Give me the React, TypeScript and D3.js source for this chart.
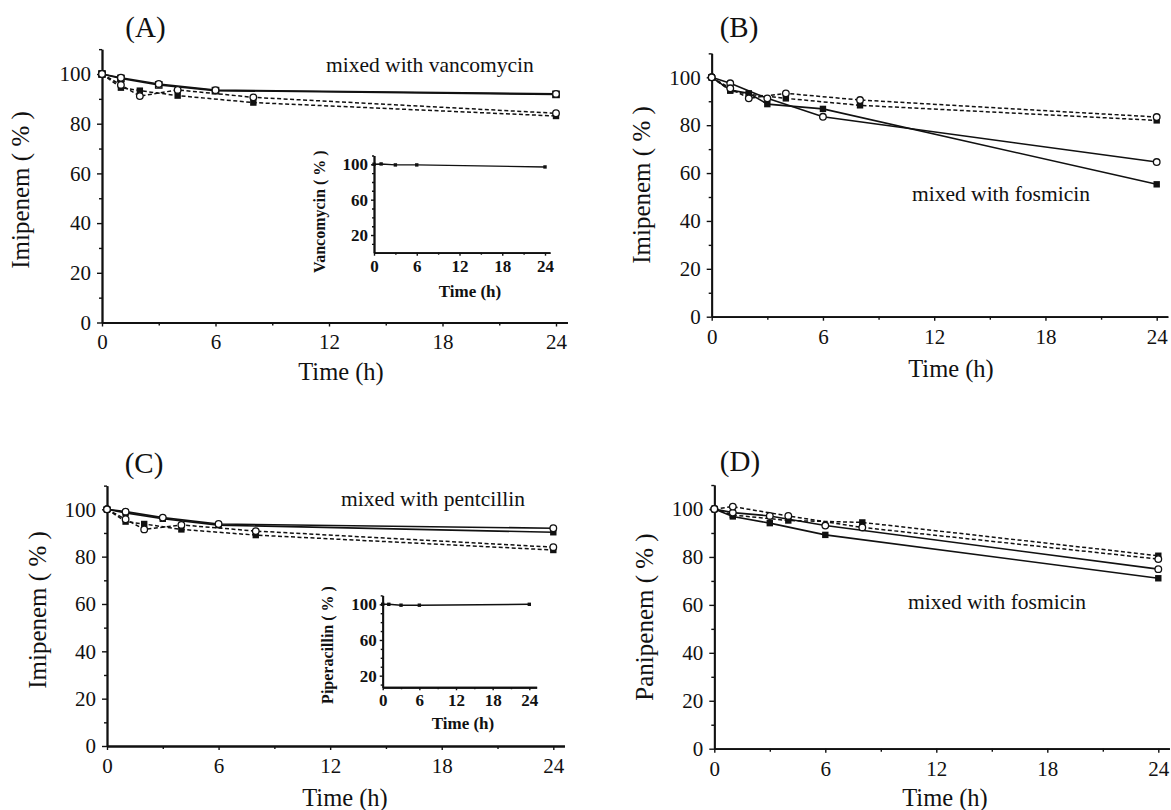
import React, { useEffect, useRef } from "react";
import * as d3 from "d3";

type Pt = [number, number];

// (A) imipenem mixed with vancomycin
const aSolidCircle: Pt[] = [[0, 100], [1, 98.5], [3, 96], [6, 93.5], [24, 92]];
const aSolidSquare: Pt[] = [[0, 100], [1, 98.2], [3, 95.6], [6, 93.3], [24, 91.8]];
const aDashCircle: Pt[] = [[0, 100], [1, 95.6], [2, 91.1], [4, 93.6], [8, 90.6], [24, 84.2]];
const aDashSquare: Pt[] = [[0, 100], [1, 94.5], [2, 93.3], [4, 91.3], [8, 88.5], [24, 83.1]];
const aInset: Pt[] = [[0, 100], [1, 100.4], [3, 99.3], [6, 99.3], [24, 97]];

// (B) imipenem mixed with fosmicin
const bSolidCircle: Pt[] = [[0, 100], [1, 97.5], [3, 91.2], [6, 83.5], [24, 64.6]];
const bSolidSquare: Pt[] = [[0, 100], [1, 94.7], [2, 93.3], [3, 88.8], [6, 86.8], [24, 55.3]];
const bDashCircle: Pt[] = [[0, 100], [1, 95.4], [2, 91.2], [4, 93.3], [8, 90.5], [24, 83.4]];
const bDashSquare: Pt[] = [[0, 100], [1, 94.4], [2, 92.9], [4, 91.2], [8, 88.3], [24, 82]];

// (C) imipenem mixed with pentcillin
const cSolidCircle: Pt[] = [[0, 100], [1, 99], [3, 96.5], [6, 93.8], [24, 92]];
const cSolidSquare: Pt[] = [[0, 100], [1, 98.5], [3, 96], [6, 93.3], [24, 90.3]];
const cDashCircle: Pt[] = [[0, 100], [1, 95.8], [2, 91.5], [4, 93.4], [8, 90.8], [24, 84]];
const cDashSquare: Pt[] = [[0, 100], [1, 94.8], [2, 93.8], [4, 91.5], [8, 89.1], [24, 82.8]];
const cInset: Pt[] = [[0, 100], [1, 100], [3, 99], [6, 99], [24, 100]];

// (D) panipenem mixed with fosmicin
const dSolidCircle: Pt[] = [[0, 100], [1, 98.5], [3, 97.1], [6, 93.1], [24, 74.9]];
const dSolidSquare: Pt[] = [[0, 100], [1, 96.9], [3, 94.1], [6, 89.2], [24, 71.1]];
const dDashCircle: Pt[] = [[0, 100], [1, 101], [4, 97.1], [8, 92.3], [24, 79.1]];
const dDashSquare: Pt[] = [[0, 100], [1, 97.5], [4, 95.2], [8, 94.4], [24, 80.5]];

const mainYMajor = [0, 20, 40, 60, 80, 100];
const mainYMinor = [10, 30, 50, 70, 90, 110];
const mainXMajor = [0, 6, 12, 18, 24];
const mainXMinor = [3, 9, 15, 21];
const insetYMajor = [20, 60, 100];
const insetYMinor = [10, 30, 40, 50, 70, 80, 90, 110];
const insetXMajor = [0, 6, 12, 18, 24];
const insetXMinor = [3, 9, 15, 21];

const FONT = "'Liberation Serif', 'Times New Roman', serif";
const INK = "#111";

const panels = [
  {
    tag: "(A)", yLabel: "Imipenem ( % )", note: "mixed with vancomycin",
    x0: 102, x24: 556, y0: 322.5, y100: 74,
    tagPos: [145.5, 37], notePos: [326, 71.5], yLabelPos: [29, 190], xLabelPos: [341, 380],
    series: [
      { data: aSolidSquare, dash: false, marker: "openSquare" },
      { data: aDashSquare, dash: true, marker: "square" },
      { data: aSolidCircle, dash: false, marker: "circle" },
      { data: aDashCircle, dash: true, marker: "circle" },
    ],
    inset: {
      data: aInset, yLabel: "Vancomycin ( % )", x0: 374, x24: 545, xEnd: 24.7,
      y0: 252.7, y100: 164.3, yMin: 0, yLabelPos: [325, 211.7], xLabelPos: [470, 297],
    },
  },
  {
    tag: "(B)", yLabel: "Imipenem ( % )", note: "mixed with fosmicin",
    x0: 711.7, x24: 1156.7, y0: 316.7, y100: 77.3,
    tagPos: [739, 37], notePos: [912, 201], yLabelPos: [650, 185], xLabelPos: [951, 377],
    series: [
      { data: bSolidSquare, dash: false, marker: "square" },
      { data: bDashSquare, dash: true, marker: "square" },
      { data: bSolidCircle, dash: false, marker: "circle" },
      { data: bDashCircle, dash: true, marker: "circle" },
    ],
    inset: null,
  },
  {
    tag: "(C)", yLabel: "Imipenem ( % )", note: "mixed with pentcillin",
    x0: 107, x24: 553.3, y0: 746, y100: 509.3,
    tagPos: [144, 473], notePos: [341, 506], yLabelPos: [46, 610], xLabelPos: [345, 806],
    series: [
      { data: cSolidSquare, dash: false, marker: "square" },
      { data: cDashSquare, dash: true, marker: "square" },
      { data: cSolidCircle, dash: false, marker: "circle" },
      { data: cDashCircle, dash: true, marker: "circle" },
    ],
    inset: {
      data: cInset, yLabel: "Piperacillin ( % )", x0: 382.7, x24: 529.3, xEnd: 25.2,
      y0: 693.5, y100: 604.3, yMin: 7, yLabelPos: [333, 645], xLabelPos: [463, 729],
    },
  },
  {
    tag: "(D)", yLabel: "Panipenem ( % )", note: "mixed with fosmicin",
    x0: 714.3, x24: 1158.3, y0: 748.7, y100: 509,
    tagPos: [740, 471], notePos: [908, 609], yLabelPos: [653, 617], xLabelPos: [945, 806],
    series: [
      { data: dSolidSquare, dash: false, marker: "square" },
      { data: dDashSquare, dash: true, marker: "square" },
      { data: dSolidCircle, dash: false, marker: "circle" },
      { data: dDashCircle, dash: true, marker: "circle" },
    ],
    inset: null,
  },
];

function styleAxis(g: any, size: number, bold = false) {
  g.attr("font-family", FONT).attr("font-size", size).attr("color", INK);
  if (bold) g.attr("font-weight", "bold");
  g.selectAll(".domain").attr("stroke-width", 1.8);
  g.selectAll(".tick line").attr("stroke-width", 1.4);
}

const App = () => {
  const svgRef = useRef<SVGSVGElement>(null);

  useEffect(() => {
    const svg = d3.select(svgRef.current);
    svg.selectAll("*").remove();
    svg.append("rect").attr("width", 1171).attr("height", 810).attr("fill", "#fff");

    panels.forEach((p) => {
      const g = svg.append("g");
      const k = (p.x24 - p.x0) / 24;
      const x = d3.scaleLinear().domain([0, 24.6]).range([p.x0, p.x0 + k * 24.6]);
      const u = (p.y0 - p.y100) / 100;
      const y = d3.scaleLinear().domain([0, 110]).range([p.y0, p.y0 - u * 110]);

      // axes
      const gy = g.append("g").attr("transform", `translate(${p.x0},0)`);
      gy.append("g").call(d3.axisLeft(y).tickValues(mainYMinor).tickSize(3).tickFormat(() => "").tickSizeOuter(0)).call((s) => styleAxis(s, 21));
      gy.append("g").call(d3.axisLeft(y).tickValues(mainYMajor).tickSize(5).tickPadding(6).tickSizeOuter(0)).call((s) => styleAxis(s, 21));

      const gx = g.append("g").attr("transform", `translate(0,${p.y0})`);
      gx.append("g").call(d3.axisBottom(x).tickValues(mainXMinor).tickSize(3).tickFormat(() => "").tickSizeOuter(0)).call((s) => styleAxis(s, 21));
      gx.append("g").call(d3.axisBottom(x).tickValues(mainXMajor).tickSize(4).tickPadding(8).tickSizeOuter(0)).call((s) => styleAxis(s, 21));

      // series lines
      const line = d3.line<Pt>().x((d) => x(d[0])).y((d) => y(d[1]));
      p.series.forEach((s) => {
        g.append("path")
          .attr("d", line(s.data))
          .attr("fill", "none")
          .attr("stroke", INK)
          .attr("stroke-width", s.dash ? 1.5 : 1.6)
          .attr("stroke-dasharray", s.dash ? "4,2.5" : null);
      });
      // markers (squares first, circles on top)
      p.series.forEach((s) => {
        s.data.forEach((d) => {
          const cx = x(d[0]);
          const cy = y(d[1]);
          if (s.marker === "circle") {
            g.append("circle").attr("cx", cx).attr("cy", cy).attr("r", 3.3)
              .attr("fill", "#fff").attr("stroke", INK).attr("stroke-width", 1.3);
          } else {
            g.append("rect").attr("x", cx - 3.2).attr("y", cy - 3.2).attr("width", 6.4).attr("height", 6.4)
              .attr("fill", s.marker === "square" ? INK : "#fff")
              .attr("stroke", INK).attr("stroke-width", s.marker === "square" ? 0 : 1.3);
          }
        });
      });

      // texts
      g.append("text").attr("x", p.tagPos[0]).attr("y", p.tagPos[1]).attr("text-anchor", "middle")
        .attr("font-family", FONT).attr("font-size", 29).attr("fill", INK).text(p.tag);
      g.append("text").attr("x", p.notePos[0]).attr("y", p.notePos[1])
        .attr("font-family", FONT).attr("font-size", 21.5).attr("fill", INK).text(p.note);
      g.append("text").attr("transform", `translate(${p.yLabelPos[0]},${p.yLabelPos[1]}) rotate(-90)`)
        .attr("text-anchor", "middle").attr("font-family", FONT).attr("font-size", 25).attr("fill", INK).text(p.yLabel);
      g.append("text").attr("x", p.xLabelPos[0]).attr("y", p.xLabelPos[1]).attr("text-anchor", "middle")
        .attr("font-family", FONT).attr("font-size", 24.5).attr("fill", INK).text("Time (h)");

      // inset
      const ins = p.inset;
      if (ins) {
        const ik = (ins.x24 - ins.x0) / 24;
        const ix = d3.scaleLinear().domain([0, ins.xEnd]).range([ins.x0, ins.x0 + ik * ins.xEnd]);
        const iu = (ins.y0 - ins.y100) / 100;
        const iy = d3.scaleLinear().domain([ins.yMin, 110]).range([ins.y0 - iu * ins.yMin, ins.y0 - iu * 110]);
        const ig = g.append("g");
        const iyg = ig.append("g").attr("transform", `translate(${ins.x0},0)`);
        iyg.append("g").call(d3.axisLeft(iy).tickValues(insetYMinor).tickSize(2).tickFormat(() => "").tickSizeOuter(0)).call((s) => styleAxis(s, 17, true));
        iyg.append("g").call(d3.axisLeft(iy).tickValues(insetYMajor).tickSize(3).tickPadding(3).tickSizeOuter(0)).call((s) => styleAxis(s, 17, true));
        const ixg = ig.append("g").attr("transform", `translate(0,${iy(ins.yMin)})`);
        ixg.append("g").call(d3.axisBottom(ix).tickValues(insetXMinor).tickSize(2).tickFormat(() => "").tickSizeOuter(0)).call((s) => styleAxis(s, 17, true));
        ixg.append("g").call(d3.axisBottom(ix).tickValues(insetXMajor).tickSize(3).tickPadding(4).tickSizeOuter(0)).call((s) => styleAxis(s, 17, true));

        const iline = d3.line<Pt>().x((d) => ix(d[0])).y((d) => iy(d[1]));
        ig.append("path").attr("d", iline(ins.data)).attr("fill", "none").attr("stroke", INK).attr("stroke-width", 1.4);
        ig.selectAll("rect.pt").data(ins.data).enter().append("rect")
          .attr("x", (d) => ix(d[0]) - 1.7).attr("y", (d) => iy(d[1]) - 1.7)
          .attr("width", 3.4).attr("height", 3.4).attr("fill", INK);

        ig.append("text").attr("transform", `translate(${ins.yLabelPos[0]},${ins.yLabelPos[1]}) rotate(-90)`)
          .attr("text-anchor", "middle").attr("font-family", FONT).attr("font-size", 16).attr("font-weight", "bold")
          .attr("fill", INK).text(ins.yLabel);
        ig.append("text").attr("x", ins.xLabelPos[0]).attr("y", ins.xLabelPos[1]).attr("text-anchor", "middle")
          .attr("font-family", FONT).attr("font-size", 17).attr("font-weight", "bold").attr("fill", INK).text("Time (h)");
      }
    });
  }, []);

  return (
    <svg
      ref={svgRef}
      width={1171}
      height={810}
      style={{ position: "absolute", left: 0, top: 0, display: "block" }}
    />
  );
};

export default App;
